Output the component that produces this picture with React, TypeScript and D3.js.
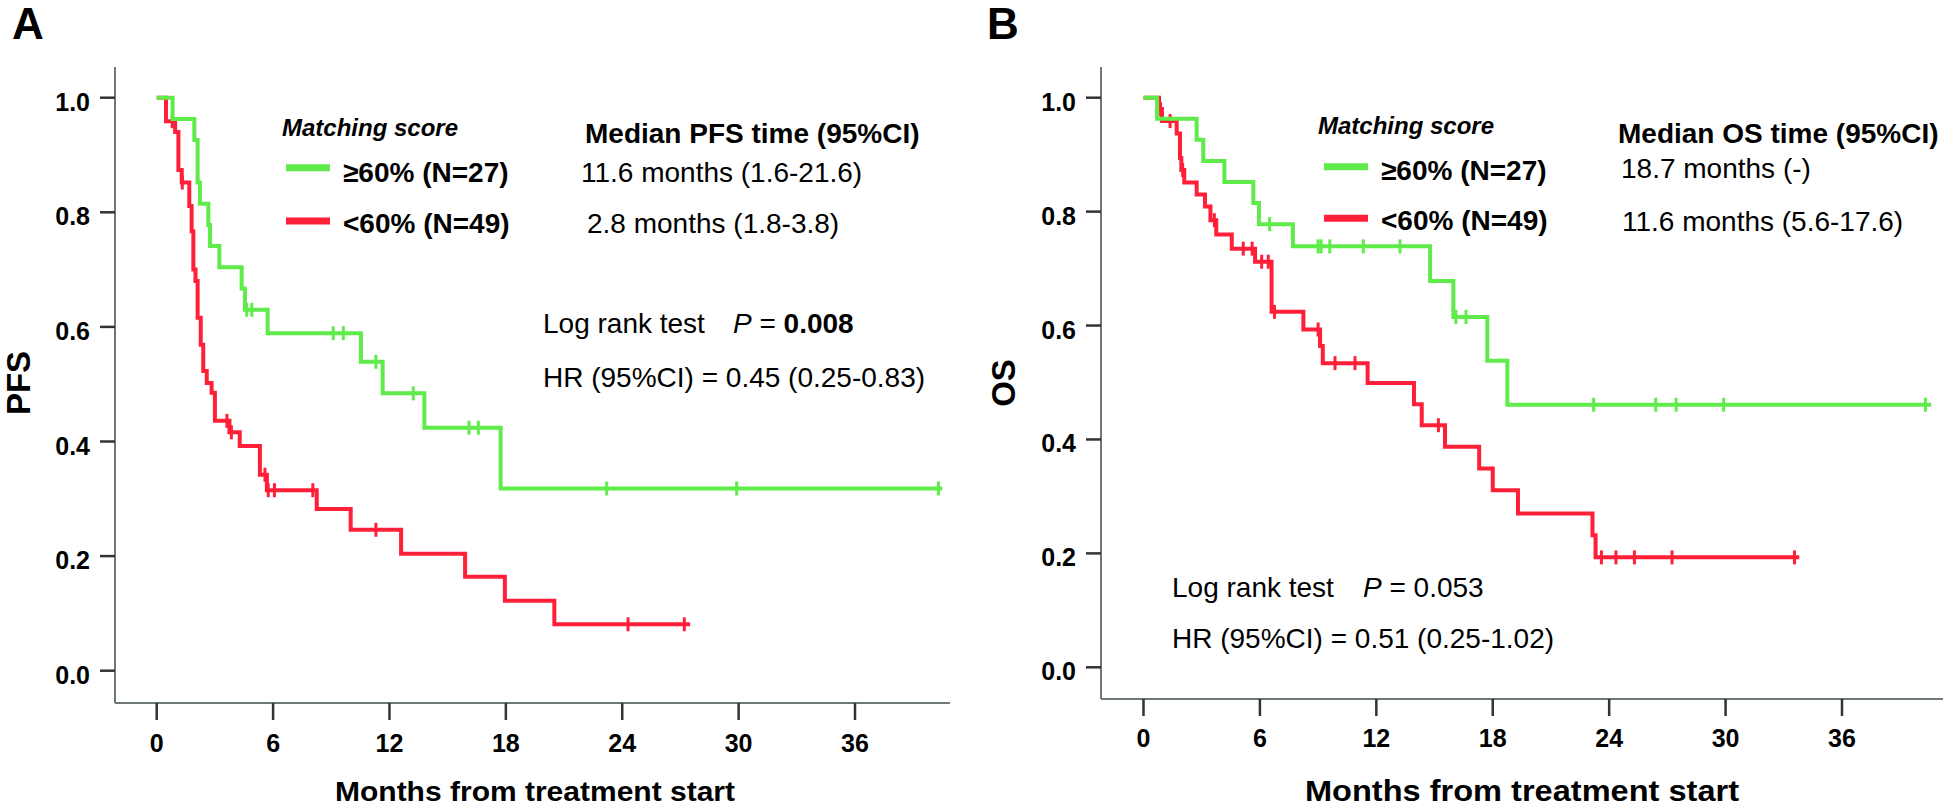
import React from 'react';
import * as d3 from 'd3';

const FONT = '"Liberation Sans", Arial, Helvetica, sans-serif';
const GREEN = '#5fec4a';
const RED = '#ff1f38';
const AXIS = '#6f7878';

const monthTicks = [0, 6, 12, 18, 24, 30, 36];
const survTicks = [0, 0.2, 0.4, 0.6, 0.8, 1.0];

// Panel A - PFS
const pfsHighTimes = [0.82, 1.94, 2.11, 2.23, 2.66, 2.75, 3.23, 4.38, 4.55, 5.72, 10.53, 11.65, 13.8, 17.73];
const pfsHighSurv = [0.963, 0.926, 0.852, 0.815, 0.778, 0.741, 0.704, 0.667, 0.63, 0.589, 0.539, 0.484, 0.424, 0.318];
const pfsHighCensor = [4.64, 4.9, 9.1, 9.62, 11.3, 13.23, 16.1, 16.58, 23.2, 29.9, 40.3];
const pfsHighEnd = 40.5;

const pfsLowTimes = [0.48, 0.95, 1.12, 1.29, 1.68, 1.8, 1.89, 2.0, 2.11, 2.27, 2.4, 2.58, 2.83, 3.0, 3.75, 4.28, 5.32, 5.68, 8.25, 10.0, 12.6, 15.9, 17.95, 20.5];
const pfsLowSurv = [0.959, 0.94, 0.874, 0.852, 0.811, 0.767, 0.7, 0.68, 0.616, 0.569, 0.523, 0.502, 0.485, 0.436, 0.416, 0.392, 0.342, 0.315, 0.282, 0.246, 0.204, 0.164, 0.122, 0.081];
const pfsLowCensor = [0.8, 1.32, 3.62, 3.85, 5.58, 5.75, 6.07, 8.05, 11.3, 24.3, 27.2];
const pfsLowEnd = 27.5;

// Panel B - OS
const osHighTimes = [0.7, 2.74, 3.08, 4.17, 5.66, 5.95, 7.7, 14.77, 15.97, 17.72, 18.75];
const osHighSurv = [0.963, 0.926, 0.889, 0.852, 0.815, 0.778, 0.739, 0.678, 0.615, 0.538, 0.461];
const osHighCensor = [6.5, 9.0, 9.15, 9.6, 11.33, 13.22, 16.1, 16.62, 23.2, 26.4, 27.45, 29.9, 40.3];
const osHighEnd = 40.6;

const osLowTimes = [0.8, 0.95, 1.71, 1.88, 1.95, 2.1, 2.74, 3.17, 3.45, 3.75, 4.55, 5.75, 6.6, 8.24, 9.1, 9.24, 11.55, 13.94, 14.34, 15.54, 17.3, 18.0, 19.3, 23.14, 23.3];
const osLowSurv = [0.98, 0.959, 0.937, 0.894, 0.873, 0.851, 0.83, 0.809, 0.785, 0.76, 0.735, 0.712, 0.624, 0.593, 0.564, 0.534, 0.499, 0.462, 0.425, 0.387, 0.349, 0.311, 0.27, 0.232, 0.193];
const osLowCensor = [0.88, 1.37, 2.02, 3.65, 5.14, 5.6, 6.09, 6.43, 6.75, 9.0, 9.87, 10.9, 15.2, 23.6, 24.35, 25.3, 27.24, 33.55];
const osLowEnd = 33.8;

function survAt(times: number[], surv: number[], t: number) {
  let s = 1;
  times.forEach((tt, i) => { if (tt <= t) s = surv[i]; });
  return s;
}

type Curve = { times: number[]; surv: number[]; censor: number[]; end: number; color: string };

function KMCurve({ c, x, y }: { c: Curve; x: any; y: any }) {
  const pts: [number, number][] = [[0, 1], ...c.times.map((t, i) => [t, c.surv[i]] as [number, number]), [c.end, c.surv[c.surv.length - 1]]];
  const line = d3.line<[number, number]>().x(d => x(d[0])).y(d => y(d[1])).curve(d3.curveStepAfter);
  return (
    <g>
      <path d={line(pts) || ''} fill="none" stroke={c.color} strokeWidth={4} />
      {c.censor.map((t, i) => {
        const cy = y(survAt(c.times, c.surv, t));
        return <line key={i} x1={x(t)} x2={x(t)} y1={cy - 7} y2={cy + 7} stroke={c.color} strokeWidth={3} />;
      })}
    </g>
  );
}

function Panel(props: any) {
  const { xr, yr, ax, top, bottom, right, curves, yLabel, yLabelX, letter, letterX, xLabelX, xLabelW, xLabelSize, tickBase } = props;
  const x = d3.scaleLinear().domain([0, 36]).range(xr);
  const y = d3.scaleLinear().domain([0, 1]).range(yr);
  return (
    <g fontFamily={FONT}>
      <text x={letterX} y={39} fontSize={44} fontWeight="bold">{letter}</text>
      <line x1={ax} x2={ax} y1={top} y2={bottom} stroke={AXIS} strokeWidth={2} />
      <line x1={ax} x2={right} y1={bottom} y2={bottom} stroke={AXIS} strokeWidth={2} />
      {survTicks.map(v => (
        <g key={v}>
          <line x1={ax - 15} x2={ax} y1={y(v)} y2={y(v)} stroke="#333" strokeWidth={2.5} />
          <text x={ax - 25} y={y(v) + 13} textAnchor="end" fontSize={25} fontWeight="bold">{v.toFixed(1)}</text>
        </g>
      ))}
      {monthTicks.map(v => (
        <g key={v}>
          <line x1={x(v)} x2={x(v)} y1={bottom} y2={bottom + 17} stroke="#333" strokeWidth={2.5} />
          <text x={x(v)} y={tickBase} textAnchor="middle" fontSize={25} fontWeight="bold">{v}</text>
        </g>
      ))}
      <text x={xLabelX} y={801} textAnchor="middle" fontSize={xLabelSize} fontWeight="bold"
        textLength={xLabelW} lengthAdjust="spacingAndGlyphs">Months from treatment start</text>
      <text transform={`translate(${yLabelX},383) rotate(-90)`} textAnchor="middle" fontSize={33} fontWeight="bold">{yLabel}</text>
      {curves.map((c: Curve, i: number) => <KMCurve key={i} c={c} x={x} y={y} />)}
    </g>
  );
}

export default function App() {
  const pfsCurves: Curve[] = [
    { times: pfsLowTimes, surv: pfsLowSurv, censor: pfsLowCensor, end: pfsLowEnd, color: RED },
    { times: pfsHighTimes, surv: pfsHighSurv, censor: pfsHighCensor, end: pfsHighEnd, color: GREEN },
  ];
  const osCurves: Curve[] = [
    { times: osLowTimes, surv: osLowSurv, censor: osLowCensor, end: osLowEnd, color: RED },
    { times: osHighTimes, surv: osHighSurv, censor: osHighCensor, end: osHighEnd, color: GREEN },
  ];
  return (
    <svg width={1946} height={808} style={{ position: 'absolute', left: 0, top: 0, background: '#fff' }}>
      <rect width={1946} height={808} fill="#fff" />
      <Panel xr={[156.7, 855]} yr={[670.7, 97.7]} ax={115} top={67} bottom={703} right={950}
        curves={pfsCurves} yLabel="PFS" yLabelX={30} letter="A" letterX={12}
        xLabelX={535} xLabelW={400} xLabelSize={28} tickBase={752} />
      <Panel xr={[1143.5, 1842]} yr={[667.3, 97.7]} ax={1101} top={67} bottom={699} right={1943}
        curves={osCurves} yLabel="OS" yLabelX={1015} letter="B" letterX={987}
        xLabelX={1522} xLabelW={434} xLabelSize={29} tickBase={747} />

      <g fontFamily={FONT}>
        {/* legend A */}
        <text x={282} y={136} fontSize={24} fontWeight="bold" fontStyle="italic">Matching score</text>
        <line x1={286} x2={330} y1={167.7} y2={167.7} stroke={GREEN} strokeWidth={7} />
        <line x1={286} x2={330} y1={221} y2={221} stroke={RED} strokeWidth={7} />
        <text x={343} y={182} fontSize={28} fontWeight="bold">≥60% (N=27)</text>
        <text x={343} y={232.5} fontSize={28} fontWeight="bold">&lt;60% (N=49)</text>
        <text x={585} y={143} fontSize={28} fontWeight="bold">Median PFS time (95%CI)</text>
        <text x={581} y={182} fontSize={28}>11.6 months (1.6-21.6)</text>
        <text x={587} y={232.5} fontSize={28}>2.8 months (1.8-3.8)</text>
        <text x={543} y={333} fontSize={28}>Log rank test<tspan x={733} fontStyle="italic">P</tspan><tspan> = </tspan><tspan fontWeight="bold">0.008</tspan></text>
        <text x={543} y={387} fontSize={28}>HR (95%CI) = 0.45 (0.25-0.83)</text>

        {/* legend B */}
        <text x={1318} y={133.5} fontSize={24} fontWeight="bold" fontStyle="italic">Matching score</text>
        <line x1={1324} x2={1368} y1={166.7} y2={166.7} stroke={GREEN} strokeWidth={7} />
        <line x1={1324} x2={1368} y1={218.3} y2={218.3} stroke={RED} strokeWidth={7} />
        <text x={1381} y={180} fontSize={28} fontWeight="bold">≥60% (N=27)</text>
        <text x={1381} y={230} fontSize={28} fontWeight="bold">&lt;60% (N=49)</text>
        <text x={1618} y={142.7} fontSize={28} fontWeight="bold">Median OS time (95%CI)</text>
        <text x={1621} y={178.3} fontSize={28}>18.7 months (-)</text>
        <text x={1622} y={230.7} fontSize={28}>11.6 months (5.6-17.6)</text>
        <text x={1172} y={596.7} fontSize={28}>Log rank test<tspan x={1363} fontStyle="italic">P</tspan><tspan> = 0.053</tspan></text>
        <text x={1172} y={648.3} fontSize={28}>HR (95%CI) = 0.51 (0.25-1.02)</text>
      </g>
    </svg>
  );
}
